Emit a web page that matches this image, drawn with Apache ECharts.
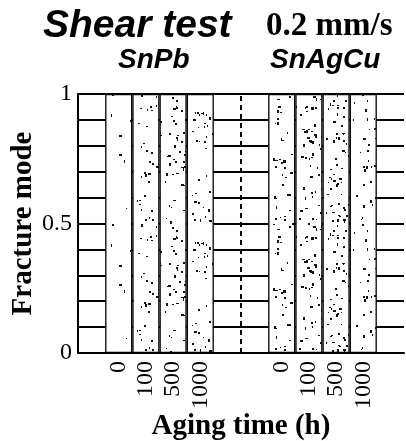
<!DOCTYPE html>
<html lang="en">
<head>
    <meta charset="UTF-8">
    <title>Shear test fracture mode</title>
    <script src="https://cdn.jsdelivr.net/npm/echarts@6/dist/echarts.min.js"></script>
    <style>
        html, body { margin: 0; padding: 0; background: #fff; }
        #main { width: 406px; height: 441px; }
    </style>
</head>
<body>
<div id="main"></div>
<script>
    // data
    var alloys = ['SnPb', 'SnAgCu'];
    var agingTimes = ['0', '100', '500', '1000'];
    // fraction of the stippled fracture mode, one per aging time
    var snpbMode = [1, 1, 1, 1];
    var snagcuMode = [1, 1, 1, 1];
    var yTickLabels = ['0', '0.5', '1'];
    // dashed separator between the two alloys (slot boundary)
    var separatorAt = 6;

    // look of the stipple in each bar (dots per tile), not data
    var snpbDots = [9, 32, 46, 36];
    var snagcuDots = [36, 54, 58, 32];

    // slots on the x axis: empty, 4 SnPb bars, 2 empty, 4 SnAgCu bars, empty
    var slotLabels = [''].concat(agingTimes, ['', ''], agingTimes, ['']);
    var slotKeys = slotLabels.map(function (l, i) { return 's' + i; });

    // small deterministic stipple texture
    function stipple(count, seed) {
        var c = document.createElement('canvas');
        c.width = 27; c.height = 130;
        var ctx = c.getContext('2d');
        ctx.fillStyle = '#fff';
        ctx.fillRect(0, 0, c.width, c.height);
        ctx.fillStyle = '#111';
        var s = seed;
        function next() { s = (s * 9301 + 49297) % 233280; return s / 233280; }
        for (var i = 0; i < count; i++) {
            var x = 2 + next() * 23;
            var y = next() * 130;
            var w = 1 + Math.round(next() * 1.8);
            var h = 1 + Math.round(next() * 1.8);
            ctx.fillRect(Math.round(x), Math.round(y), w, h);
        }
        return {image: c, repeat: 'repeat'};
    }

    var barData = slotLabels.map(function () { return '-'; });
    agingTimes.forEach(function (t, i) {
        barData[1 + i] = {value: snpbMode[i], itemStyle: {color: stipple(snpbDots[i], 17 + i * 31)}};
        barData[7 + i] = {value: snagcuMode[i], itemStyle: {color: stipple(snagcuDots[i], 123 + i * 47)}};
    });

    var serif = '"Liberation Serif", "Times New Roman", serif';
    var sans = '"Liberation Sans", Arial, sans-serif';

    var myChart = echarts.init(document.getElementById('main'));
    var option = {
        animation: false,
        backgroundColor: '#fff',
        title: [
            {text: 'Shear test', left: 43, top: 7, padding: 0,
                textStyle: {fontFamily: sans, fontStyle: 'italic', fontWeight: 'bold', fontSize: 39, color: '#000'}},
            {text: '0.2 mm/s', left: 266, top: 10, padding: 0,
                textStyle: {fontFamily: serif, fontWeight: 'bold', fontSize: 33, color: '#000'}},
            {text: alloys[0], left: 118, top: 46, padding: 0,
                textStyle: {fontFamily: sans, fontStyle: 'italic', fontWeight: 'bold', fontSize: 28, color: '#000'}},
            {text: alloys[1], left: 270, top: 46, padding: 0,
                textStyle: {fontFamily: sans, fontStyle: 'italic', fontWeight: 'bold', fontSize: 28, color: '#000'}}
        ],
        grid: {left: 78, right: 2, top: 94, bottom: 88, outerBoundsMode: 'none'},
        xAxis: [{
            type: 'category',
            data: slotKeys,
            boundaryGap: true,
            name: 'Aging time (h)',
            nameLocation: 'middle',
            nameGap: 59,
            nameMoveOverlap: false,
            nameTextStyle: {fontFamily: serif, fontWeight: 'bold', fontSize: 29, color: '#000'},
            axisLine: {show: true, lineStyle: {color: '#000', width: 2}},
            axisTick: {show: false},
            axisLabel: {
                interval: 0, rotate: 90, margin: 8,
                fontFamily: serif, fontSize: 24, color: '#000',
                formatter: function (v, i) { return slotLabels[i]; }
            },
            splitLine: {show: false}
        }, {
            // hidden helper axis in slot units, for the separator line
            type: 'value',
            min: 0, max: slotLabels.length,
            show: false
        }],
        yAxis: {
            type: 'value',
            min: 0, max: 1, interval: 0.1,
            name: 'Fracture mode',
            nameLocation: 'middle',
            nameGap: 40,
            nameMoveOverlap: false,
            nameTextStyle: {fontFamily: serif, fontWeight: 'bold', fontSize: 29, color: '#000'},
            axisLine: {show: true, lineStyle: {color: '#000', width: 2}},
            axisTick: {show: false},
            axisLabel: {
                margin: 6, fontFamily: serif, fontSize: 24, color: '#000',
                formatter: function (v) {
                    var s = String(Math.round(v * 10) / 10);
                    return yTickLabels.indexOf(s) >= 0 ? s : '';
                }
            },
            splitLine: {show: true, lineStyle: {color: '#000', width: 2}}
        },
        series: [{
            type: 'bar',
            data: barData,
            barCategoryGap: '0%',
            itemStyle: {borderColor: '#000', borderWidth: 1.3}
        }, {
            type: 'line',
            xAxisIndex: 1,
            data: [[separatorAt, 0], [separatorAt, 1]],
            symbol: 'none',
            silent: true,
            z: 1,
            lineStyle: {color: '#000', width: 2, type: [5, 4]}
        }]
    };
    myChart.setOption(option);
</script>
</body>
</html>
